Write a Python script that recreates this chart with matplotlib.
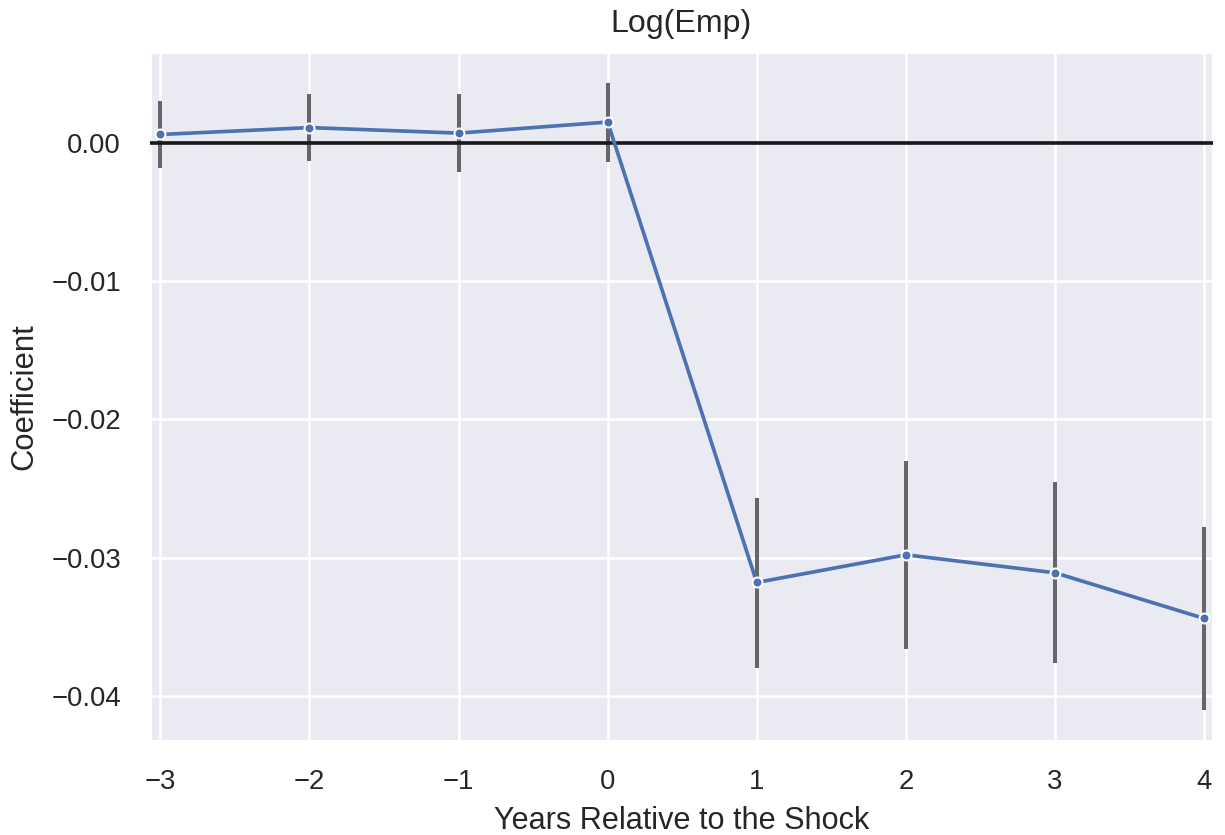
import numpy as np
import matplotlib
matplotlib.use("Agg")
import matplotlib.pyplot as plt
import seaborn as sns

# Event-study coefficients
years = [-3, -2, -1, 0, 1, 2, 3, 4]
coef = [0.0006, 0.0011, 0.0007, 0.0015, -0.0318, -0.0298, -0.0311, -0.0344]
ci_low = [-0.0018, -0.0013, -0.0021, -0.0014, -0.0380, -0.0366, -0.0376, -0.0410]
ci_high = [0.0030, 0.0035, 0.0035, 0.0043, -0.0257, -0.0230, -0.0245, -0.0278]

sns.set_theme(style="darkgrid", context="talk")
plt.rcParams['font.family'] = ['Liberation Sans', 'DejaVu Sans']

fig, ax = plt.subplots(figsize=(1225 / 120, 835 / 120), dpi=120)
fig.subplots_adjust(left=0.1224, right=0.9902, top=0.9377, bottom=0.1126)

coef = np.array(coef)
yerr = [coef - np.array(ci_low), np.array(ci_high) - coef]

ax.errorbar(years, coef, yerr=yerr, fmt="none", ecolor="#666666",
            elinewidth=2.4, capsize=0, zorder=2)
ax.axhline(0, color="#1a1a1a", linewidth=2.2, zorder=3)
ax.plot(years, coef, color="#4C72B0", linewidth=2.2, marker="o",
        markersize=6, markeredgecolor="white", markeredgewidth=1.2, zorder=4)

ax.set_xlim(-3.07, 4.06)
ax.set_xticks(years)
ax.set_yticks([0.0, -0.01, -0.02, -0.03, -0.04])
ax.set_yticklabels(["0.00", "\u22120.01", "\u22120.02", "\u22120.03", "\u22120.04"])
ax.tick_params(axis="x", pad=plt.rcParams['xtick.major.pad'] + 4.2)
ax.tick_params(axis="y", pad=plt.rcParams['ytick.major.pad'] + 4.8)
ax.set_title("Log(Emp)", fontsize=19.3, pad=12)
ax.set_xlabel("Years Relative to the Shock", fontsize=18.4, labelpad=6.5)
ax.set_ylabel("Coefficient", fontsize=18.6, labelpad=7.3)

fig.savefig("out.png", dpi=120)
